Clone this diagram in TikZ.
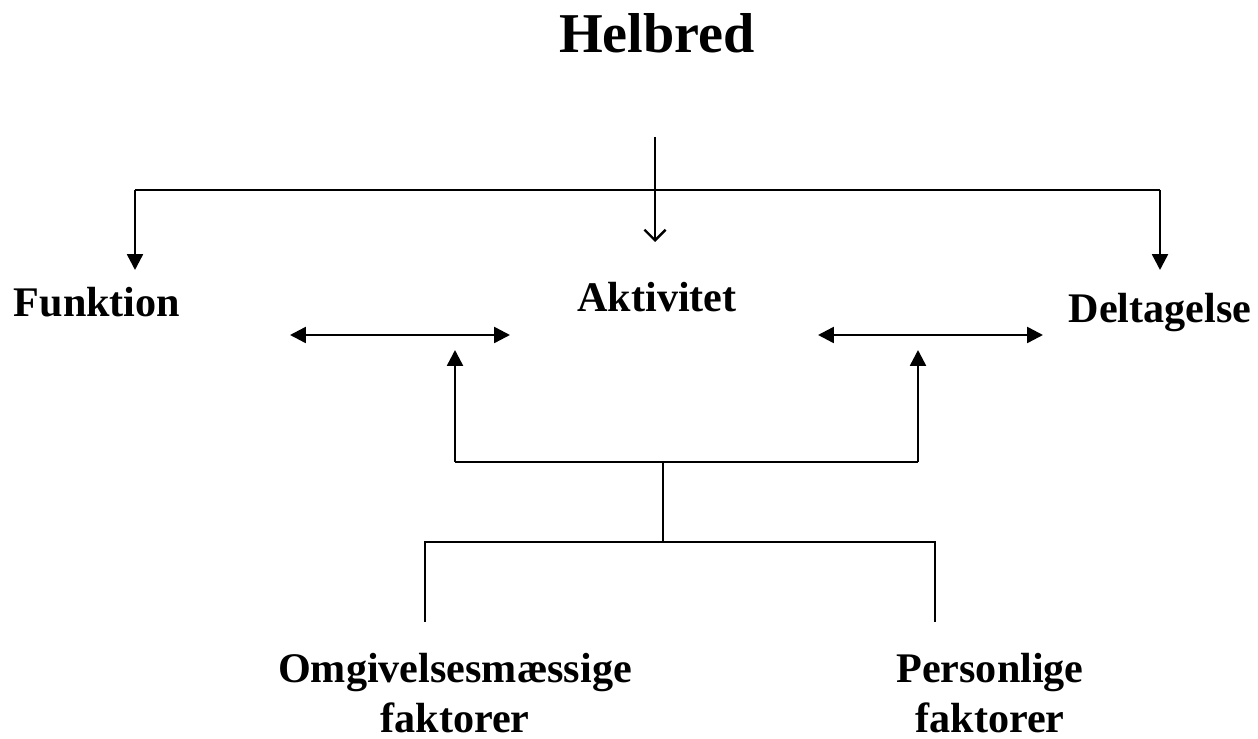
\documentclass[tikz,border=0pt]{standalone}
\usepackage{fontspec}
\setmainfont{Liberation Serif}
\usepackage{tikz}
\usetikzlibrary{arrows,arrows.meta}

\begin{document}
\begin{tikzpicture}[x=0.02cm,y=-0.02cm]
\useasboundingbox (0,0) rectangle (1258,739);

\begin{scope}[every node/.style={font=\bfseries\fontsize{24}{28}\selectfont,align=center}]
    \node[font=\bfseries\fontsize{32}{36}\selectfont] (H) at (657,33) {Helbred};
    \node (F) at (97,302) {Funktion};
    \node (A) at (657,297) {Aktivitet};
    \node (D) at (1160,313) {Deltagelse};
    \node (O) at (455,693) {Omgivelsesmæssige\\faktorer};
    \node (P) at (990,693) {Personlige\\faktorer};
\end{scope}

% junction points
\coordinate (h0) at (655,137);
\coordinate (h1) at (655,242);
\coordinate (hl) at (135,190);
\coordinate (hr) at (1160,190);
\coordinate (fl) at (135,270);
\coordinate (dr) at (1160,270);
\coordinate (fa1) at (290,335);
\coordinate (fa2) at (510,335);
\coordinate (ad1) at (818,335);
\coordinate (ad2) at (1043,335);
\coordinate (ul) at (455,462);
\coordinate (ur) at (918,462);
\coordinate (ult) at (455,350);
\coordinate (urt) at (918,350);
\coordinate (m1) at (663,462);
\coordinate (m2) at (663,542);
\coordinate (bl) at (425,542);
\coordinate (br) at (935,542);
\coordinate (blt) at (425,622);
\coordinate (brt) at (935,622);

\begin{scope}[>={Triangle[length=9pt,width=9pt]},
              every edge/.style={draw=black,line width=1.4pt},
              line width=1.4pt]
    \path [->] (h0) edge [-{Straight Barb[length=6pt,width=12pt]}] (h1);
    \draw [->] (hl) -- (fl);
    \draw (hl) -- (hr);
    \draw [->] (hr) -- (dr);
    \path [<->] (fa1) edge (fa2);
    \path [<->] (ad1) edge (ad2);
    \draw [->] (ul) -- (ult);
    \draw [->] (ur) -- (urt);
    \draw (ul) -- (ur);
    \path [-] (m1) edge (m2);
    \draw (blt) -- (bl) -- (br) -- (brt);
\end{scope}
\end{tikzpicture}
\end{document}
